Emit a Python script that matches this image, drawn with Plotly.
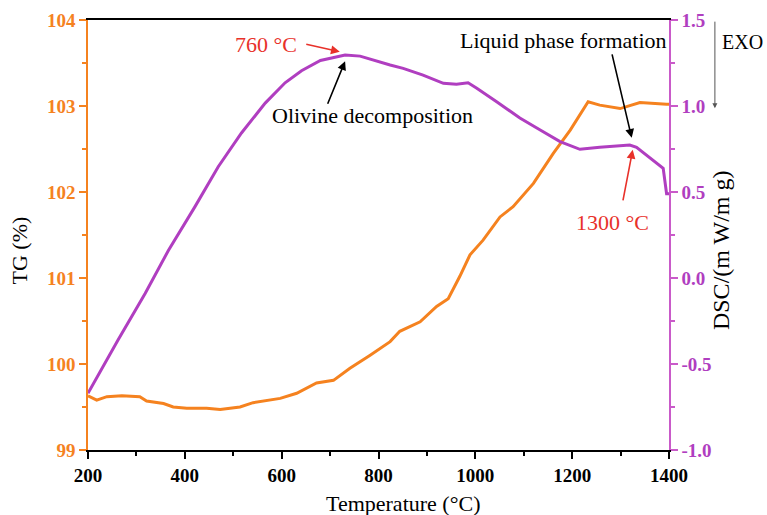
import plotly.graph_objects as go

# DSC signal (right axis, mW/mg) versus temperature
dsc_temp = [200, 262, 318, 366, 421, 469, 517, 566, 607, 641, 680, 731, 762,
            789, 824, 851, 892, 934, 961, 985, 1003, 1044, 1092, 1134, 1175, 1216,
            1257, 1319, 1333, 1388, 1395, 1400]
dsc_vals = [-0.67, -0.36, -0.09, 0.16, 0.415, 0.647, 0.843, 1.017, 1.135, 1.205, 1.265,
            1.297, 1.29, 1.267, 1.238, 1.219, 1.18, 1.132, 1.126, 1.135, 1.103,
            1.025, 0.93, 0.86, 0.793, 0.748, 0.76, 0.773, 0.76, 0.638, 0.49, 0.49]

# TG signal (left axis, %) versus temperature
tg_temp = [200, 204, 218, 239, 270, 307, 321, 356, 376, 404, 445, 473, 514, 541, 597,
           631, 672, 707, 741, 782, 824, 844, 886, 920, 944, 968, 989, 1016, 1051, 1078,
           1120, 1161, 1196, 1233, 1257, 1299, 1340, 1395, 1400]
tg_vals = [99.63, 99.62, 99.58, 99.62, 99.63, 99.62, 99.57, 99.54, 99.50, 99.485, 99.485,
           99.47, 99.50, 99.55, 99.60, 99.66, 99.78, 99.81, 99.95, 100.10, 100.26, 100.38,
           100.49, 100.67, 100.76, 101.02, 101.27, 101.44, 101.71, 101.83, 102.10, 102.45,
           102.72, 103.05, 103.01, 102.97, 103.04, 103.02, 103.02]

x_ticks = [200, 400, 600, 800, 1000, 1200, 1400]
tg_ticks = [99, 100, 101, 102, 103, 104]
dsc_ticks = [-1.0, -0.5, 0.0, 0.5, 1.0, 1.5]
dsc_tick_text = ["-1.0", "-0.5", "0.0", "0.5", "1.0", "1.5"]

ORANGE = "#F5821F"
PURPLE = "#B03EC0"
PURPLE_AXIS = "#C95AC9"
RED = "#E8312A"
SERIF = "Liberation Serif"

fig = go.Figure()
fig.add_trace(go.Scatter(x=tg_temp, y=tg_vals, mode="lines",
                         line=dict(color=ORANGE, width=3), yaxis="y", showlegend=False))
fig.add_trace(go.Scatter(x=dsc_temp, y=dsc_vals, mode="lines",
                         line=dict(color=PURPLE, width=3), yaxis="y2", showlegend=False))

fig.update_layout(
    width=767, height=515,
    margin=dict(l=88, r=98, t=20, b=65),
    paper_bgcolor="white", plot_bgcolor="white",
    font=dict(family=SERIF, size=19, color="black"),
    xaxis=dict(
        range=[200, 1400], tickvals=x_ticks, automargin=False,
        showgrid=False, zeroline=False,
        showline=True, linecolor="black", linewidth=1.5, mirror=True,
        ticks="outside", ticklen=7, tickcolor="black", tickwidth=1.5,
        minor=dict(dtick=100, ticks="outside", ticklen=4, tickcolor="black"),
        tickfont=dict(family=SERIF, size=19, color="black", weight="bold"),
    ),
    yaxis=dict(
        range=[99, 104], tickvals=tg_ticks, automargin=False,
        showgrid=False, zeroline=False,
        showline=True, linecolor=ORANGE, linewidth=1.5,
        ticks="outside", ticklen=7, tickcolor=ORANGE, tickwidth=1.5,
        minor=dict(dtick=0.5, ticks="outside", ticklen=4, tickcolor=ORANGE),
        tickfont=dict(family=SERIF, size=19, color=ORANGE, weight="bold"),
    ),
    yaxis2=dict(
        range=[-1.0, 1.5], tickvals=dsc_ticks, ticktext=dsc_tick_text, automargin=False,
        overlaying="y", side="right",
        showgrid=False, zeroline=False,
        showline=True, linecolor=PURPLE_AXIS, linewidth=1.5,
        ticks="outside", ticklen=7, tickcolor=PURPLE_AXIS, tickwidth=1.5,
        minor=dict(dtick=0.25, ticks="outside", ticklen=4, tickcolor=PURPLE_AXIS),
        tickfont=dict(family=SERIF, size=19, color=PURPLE, weight="bold"),
    ),
)

# Axis titles, anchored by their edges so they sit just outside the tick labels
fig.add_annotation(x=0.542, y=-0.0907, xref="paper", yref="paper", text="Temperature (°C)",
                   xanchor="center", yanchor="top", showarrow=False,
                   font=dict(family=SERIF, size=22, color="black"))
fig.add_annotation(x=-0.093, y=0.465, xref="paper", yref="paper", text="TG (%)",
                   xanchor="right", yanchor="middle", textangle=-90, showarrow=False,
                   font=dict(family=SERIF, size=22, color="black"))
fig.add_annotation(x=1.0637, y=0.465, xref="paper", yref="paper", text="DSC/(m W/m g)",
                   xanchor="left", yanchor="middle", textangle=-90, showarrow=False,
                   font=dict(family=SERIF, size=24, color="black"))

# Text labels
labels = [
    ("760 °C", 0.306, 0.944, RED),
    ("Olivine decomposition", 0.489, 0.777, "black"),
    ("Liquid phase formation", 0.8176, 0.953, "black"),
    ("1300 °C", 0.9036, 0.530, RED),
]
for txt, xp, yp, col in labels:
    fig.add_annotation(x=xp, y=yp, xref="paper", yref="paper", text=txt,
                       xanchor="center", yanchor="middle",
                       showarrow=False, font=dict(family=SERIF, size=22, color=col))

fig.add_annotation(x=1.088, y=0.949, xref="paper", yref="paper", text="EXO",
                   xanchor="left", yanchor="middle", showarrow=False,
                   font=dict(family=SERIF, size=20, color="black"))

# Pointer arrows (heads in data coordinates, tails as pixel offsets)
arrows = [
    (720, 103.63, -35, -8, RED),
    (731, 103.52, -18, 44, "black"),
    (1323, 102.63, -20, -85, "black"),
    (1325, 102.49, -10, 52, RED),
]
for hx, hy, ax, ay, col in arrows:
    fig.add_annotation(x=hx, y=hy, xref="x", yref="y", ax=ax, ay=ay, text="",
                       showarrow=True, arrowhead=2, arrowsize=1.1, arrowwidth=1.6,
                       arrowcolor=col)

# Exothermic direction indicator
fig.add_annotation(x=1.079, y=0.795, xref="paper", yref="paper", ax=0, ay=-88, text="",
                   showarrow=True, arrowhead=2, arrowsize=1, arrowwidth=1,
                   arrowcolor="#555555")

fig.write_html("out.html")
